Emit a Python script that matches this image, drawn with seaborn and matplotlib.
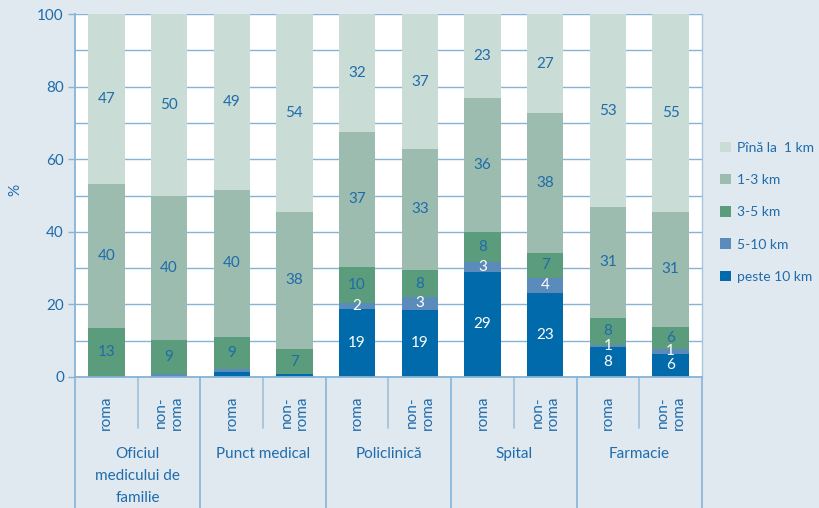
import matplotlib
matplotlib.use("Agg")
import matplotlib.pyplot as plt
import matplotlib.transforms as mtransforms
from matplotlib.patches import Patch
import numpy as np
import pandas as pd
import seaborn as sns

# ---------------- data ----------------
groups = ["Oficiul\nmedicului de\nfamilie", "Punct medical", "Policlinică", "Spital", "Farmacie"]
subcats = ["roma", "non-\nroma"] * 5
series_names = ["Pînă la  1 km", "1-3 km", "3-5 km", "5-10 km", "peste 10 km"]

peste10 = [0.3, 0.3, 1.4, 0.8, 18.7, 18.5, 29.0, 23.2, 8.3, 6.4]
km5_10 = [0.0, 0.6, 0.8, 0.0, 1.8, 3.5, 2.8, 4.1, 0.6, 1.4]
km3_5 = [13.2, 9.3, 8.9, 6.9, 9.9, 7.5, 8.2, 6.9, 7.4, 6.1]
km1_3 = [39.7, 39.7, 40.4, 37.8, 37.1, 33.3, 36.9, 38.5, 30.5, 31.6]
pana1 = [46.8, 50.1, 48.5, 54.5, 32.5, 37.2, 23.1, 27.3, 53.2, 54.5]

lab_peste10 = ["", "", "", "", "19", "19", "29", "23", "8", "6"]
lab_5_10 = ["", "", "", "", "2", "3", "3", "4", "1", "1"]
lab_3_5 = ["13", "9", "9", "7", "10", "8", "8", "7", "8", "6"]
lab_1_3 = ["40", "40", "40", "38", "37", "33", "36", "38", "31", "31"]
lab_pana1 = ["47", "50", "49", "54", "32", "37", "23", "27", "53", "55"]

yticks = [0, 20, 40, 60, 80, 100]

# ---------------- style ----------------
BG = "#e0e8f0"
GRID = "#86b4d6"
TXT = "#1f6cab"
# colours bottom -> top: peste 10, 5-10, 3-5, 1-3, pana la 1
colors = ["#006aaa", "#5b8bbb", "#5a9c7c", "#9bbcae", "#c9dcd5"]
label_colors = ["white", "white", TXT, TXT, TXT]

sns.set_style("white")
plt.rcParams["font.family"] = ["Lato", "DejaVu Sans"]

fig = plt.figure(figsize=(8.2, 5.08), dpi=100)
fig.patch.set_facecolor(BG)
ax = fig.add_axes([75 / 820, 1 - 377 / 508, (702 - 75) / 820, (377 - 14) / 508])
ax.set_facecolor("white")

n = len(peste10)
xcat = [str(i) for i in range(n)]
stack = [peste10, km5_10, km3_5, km1_3, pana1]  # bottom -> top
labels = [lab_peste10, lab_5_10, lab_3_5, lab_1_3, lab_pana1]
cum = np.cumsum(np.array(stack), axis=0)  # cumulative tops

# draw from top series (largest cumulative) down so lower ones overlay
for k in range(4, -1, -1):
    df = pd.DataFrame({"x": xcat, "y": cum[k]})
    sns.barplot(data=df, x="x", y="y", order=xcat, color=colors[k],
                saturation=1, width=0.58, ax=ax, zorder=2, linewidth=0)

# value labels
for k in range(5):
    bottoms = cum[k] - np.array(stack[k])
    for i in range(n):
        if labels[k][i]:
            ax.text(i, bottoms[i] + stack[k][i] / 2, labels[k][i], ha="center",
                    va="center", color=label_colors[k], fontsize=11, zorder=5)

ax.set_xlim(-0.5, n - 0.5)
ax.set_ylim(0, 100)
ax.set_yticks(yticks)
ax.set_yticks(np.arange(0, 101, 10), minor=True)
ax.tick_params(axis="y", which="major", length=5, width=1, color=GRID,
               labelcolor=TXT, labelsize=11, pad=3, direction="out", left=True)
ax.tick_params(axis="y", which="minor", length=0)
ax.grid(axis="y", which="both", color=GRID, linewidth=1, zorder=0)
ax.set_axisbelow(True)
ax.set_xticks([])
ax.set_xlabel("")
ax.set_ylabel("")

ax.spines["top"].set_visible(False)
ax.spines["left"].set_color(GRID)
ax.spines["left"].set_linewidth(1.3)
ax.spines["bottom"].set_color(GRID)
ax.spines["bottom"].set_linewidth(1.3)
ax.spines["right"].set_color("#a9c6dc")
ax.spines["right"].set_linewidth(1.0)

fig.text(15 / 820, 1 - 190 / 508, "%", rotation=90, ha="center", va="center",
         color=TXT, fontsize=11)

# below-axis category layout
trans = mtransforms.blended_transform_factory(ax.transData, ax.transAxes)
ah = 363.0
y_short = -51 / ah
y_bottom = -132 / ah
for i in range(n + 1):
    xb = i - 0.5
    if i % 2 == 0:
        ax.plot([xb, xb], [0, y_bottom], transform=trans, color=GRID, lw=1.2,
                clip_on=False, zorder=1)
    else:
        ax.plot([xb, xb], [0, y_short], transform=trans, color="#9fc0da", lw=1.2,
                clip_on=False, zorder=1)

for i in range(n):
    ax.text(i, -19 / ah, subcats[i], transform=trans, rotation=90, ha="center",
            va="top", multialignment="right", color=TXT, fontsize=11,
            linespacing=1.15)

for g in range(len(groups)):
    ax.text(2 * g + 0.5, -70 / ah, groups[g], transform=trans, ha="center",
            va="top", color=TXT, fontsize=11, linespacing=1.75)

# legend
handles = [Patch(facecolor=colors[k], edgecolor="none") for k in range(4, -1, -1)]
leg = fig.legend(handles, series_names, loc="upper left",
                 bbox_to_anchor=(714 / 820, 1 - 136 / 508), frameon=False,
                 handlelength=0.8, handleheight=0.8, handletextpad=0.45,
                 labelspacing=1.45, fontsize=10, borderaxespad=0)
for t in leg.get_texts():
    t.set_color(TXT)

fig.savefig("out.png", dpi=100, facecolor=BG)
